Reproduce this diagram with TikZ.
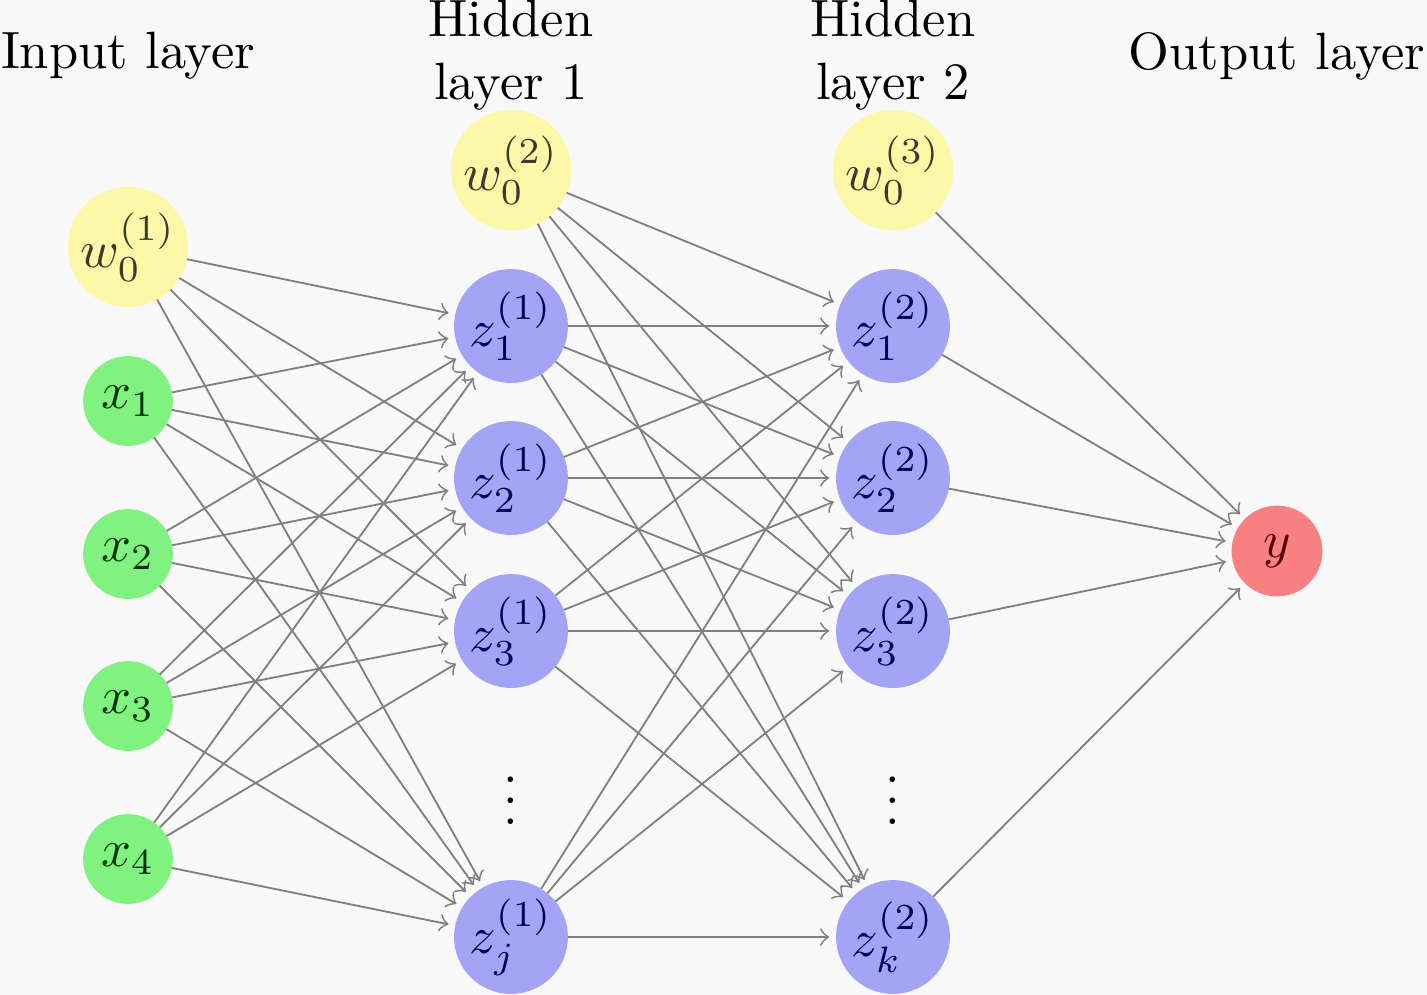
\documentclass[tikz,border=0pt]{standalone}
\definecolor{bgc}{RGB}{249,249,249}
\definecolor{ingreen}{RGB}{128,242,128}
\definecolor{biasyellow}{RGB}{252,248,168}
\definecolor{hidblue}{RGB}{164,164,246}
\definecolor{outred}{RGB}{248,128,128}
\begin{document}
\begin{tikzpicture}[x=0.1905pt,y=-0.1905pt,
  neuron/.style={circle,inner sep=0pt,outer sep=0pt},
  inp/.style={neuron,minimum size=17.1pt,fill=ingreen,text=green!20!black},
  bias/.style={neuron,minimum size=22.9pt,fill=biasyellow,text=olive!25!black},
  hid/.style={neuron,minimum size=21.7pt,fill=hidblue,text=blue!35!black},
  outn/.style={neuron,minimum size=17.3pt,fill=outred,text=red!35!black},
  conn/.style={->,gray,line width=0.35pt,shorten >=1.3pt},
  title/.style={align=center,inner sep=0pt}]
\fill[bgc] (0,0) rectangle (1427,994);
\useasboundingbox (0,0) rectangle (1427,994);
% titles
\node[title] (t1) at (128,56) {Input layer};
\node[title] (t2) at (511,55) {Hidden\\layer 1};
\node[title] (t3) at (893,55) {Hidden\\layer 2};
\node[title] (t4) at (1277,56) {Output layer};
% input layer
\node[bias] (b1) at (128,247) {$w_0^{(1)}$};
\node[inp] (x1) at (128,401) {$x_1$};
\node[inp] (x2) at (128,554) {$x_2$};
\node[inp] (x3) at (128,706) {$x_3$};
\node[inp] (x4) at (128,859) {$x_4$};
% hidden layer 1
\node[bias] (b2) at (511,170) {$w_0^{(2)}$};
\node[hid] (h1) at (511,326) {$z_1^{(1)}$};
\node[hid] (h2) at (511,478) {$z_2^{(1)}$};
\node[hid] (h3) at (511,631) {$z_3^{(1)}$};
\node (d1) at (511,785) {$\vdots$};
\node[hid] (hj) at (511,937) {$z_j^{(1)}$};
% hidden layer 2
\node[bias] (b3) at (893,170) {$w_0^{(3)}$};
\node[hid] (g1) at (893,326) {$z_1^{(2)}$};
\node[hid] (g2) at (893,478) {$z_2^{(2)}$};
\node[hid] (g3) at (893,631) {$z_3^{(2)}$};
\node (d2) at (893,785) {$\vdots$};
\node[hid] (gk) at (893,937) {$z_k^{(2)}$};
% output
\node[outn] (y) at (1277,551) {$y$};
% connections
\foreach \s in {b1,x1,x2,x3,x4}
  \foreach \t in {h1,h2,h3,hj}
    \draw[conn] (\s) -- (\t);
\foreach \s in {b2,h1,h2,h3,hj}
  \foreach \t in {g1,g2,g3,gk}
    \draw[conn] (\s) -- (\t);
\foreach \s in {b3,g1,g2,g3,gk}
  \draw[conn] (\s) -- (y);
\end{tikzpicture}
\end{document}
